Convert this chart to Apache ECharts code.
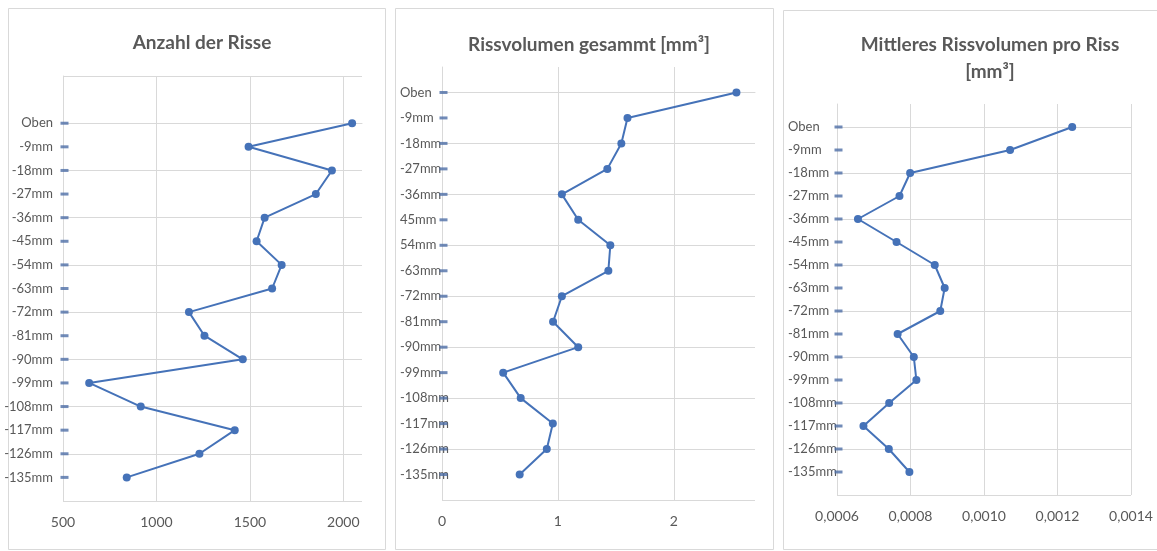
<!DOCTYPE html>
<html>
<head>
<meta charset="utf-8">
<script src="https://cdn.jsdelivr.net/npm/echarts@6/dist/echarts.min.js"></script>
<style>
html,body{margin:0;padding:0;background:#fff;}
#c{width:1157px;height:551px;}
</style>
</head>
<body>
<div id="c"></div>
<script>
// ---- data ----
const depth = [0, -9, -18, -27, -36, -45, -54, -63, -72, -81, -90, -99, -108, -117, -126, -135];
const labels1 = ['Oben','-9mm','-18mm','-27mm','-36mm','-45mm','-54mm','-63mm','-72mm','-81mm','-90mm','-99mm','-108mm','-117mm','-126mm','-135mm'];
const labels2 = ['Oben','-9mm','-18mm','-27mm','-36mm','45mm','54mm','-63mm','-72mm','-81mm','-90mm','-99mm','-108mm','-117mm','-126mm','-135mm'];
const labels3 = ['Oben','-9mm','-18mm','-27mm','-36mm','-45mm','-54mm','-63mm','-72mm','-81mm','-90mm','-99mm','-108mm','-117mm','-126mm','-135mm'];
const anzahl = [2047, 1493, 1939, 1853, 1579, 1536, 1670, 1619, 1174, 1257, 1462, 640, 916, 1419, 1230, 841];
const volumen = [2.54, 1.60, 1.547, 1.426, 1.034, 1.175, 1.452, 1.435, 1.034, 0.958, 1.175, 0.528, 0.679, 0.956, 0.904, 0.670];
const mittel = [0.001240, 0.001071, 0.000799, 0.000770, 0.000657, 0.000762, 0.000866, 0.000893, 0.000881, 0.000765, 0.000809, 0.000816, 0.000742, 0.000672, 0.000741, 0.000797];
const titles = ['Anzahl der Risse', 'Rissvolumen gesammt [mm³]', 'Mittleres Rissvolumen pro Riss\n[mm³]'];
const xTicks1 = {min: 500, max: 2100, interval: 500};
const xTicks2 = {min: 0, max: 2.7, interval: 1};
const xTicks3 = {min: 0.0006, max: 0.0014, interval: 0.0002};

// ---- styles ----
const FONT = 'Lato, "Noto Sans", sans-serif';
const TXT = '#595959';
const GRIDC = '#d9d9d9';
const LINEC = '#4572b8';
const DASHC = '#4e6ea6';

const panels = [
  {grid:{left:63, top:76, width:299, height:425}, x:xTicks1, ymax:18, labels:labels1, data:anzahl,
   title:{x:197, y:24}, lab:{align:'right', margin:10}, hideMax:true, fmt:v=>String(v), dashOff:1.5},
  {grid:{left:442, top:67, width:313, height:433}, x:xTicks2, ymax:9, labels:labels2, data:volumen,
   title:{x:584, y:26}, lab:{align:'left', margin:42}, hideMax:true, fmt:v=>String(Math.round(v)), dashOff:1.5, hideTop:true},
  {grid:{left:837, top:104, width:294, height:391}, x:xTicks3, ymax:9, labels:labels3, data:mittel,
   title:{x:985, y:26}, lab:{align:'left', margin:49}, hideMax:false, fmt:v=>v.toFixed(4).replace('.', ','), dashOff:1.5, hideTop:true}
];

const option = {
  animation:false,
  backgroundColor:'#fff',
  title:[], grid:[], xAxis:[], yAxis:[], series:[],
  graphic:[
    {type:'rect', shape:{x:8.5, y:8.5, width:377, height:541}, style:{fill:'none', stroke:GRIDC, lineWidth:1}, silent:true},
    {type:'rect', shape:{x:395.5, y:8.5, width:378, height:541}, style:{fill:'none', stroke:GRIDC, lineWidth:1}, silent:true},
    {type:'rect', shape:{x:783.5, y:10.5, width:380, height:539}, style:{fill:'none', stroke:GRIDC, lineWidth:1}, silent:true}
  ]
};

panels.forEach((p, k) => {
  option.title.push({
    text: titles[k], left: p.title.x, top: p.title.y, textAlign:'center',
    textStyle:{fontFamily:FONT, fontSize:19, fontWeight:'bold', color:TXT, lineHeight:27}
  });
  option.grid.push(Object.assign({containLabel:false}, p.grid));
  option.xAxis.push({
    type:'value', gridIndex:k, min:p.x.min, max:p.x.max, interval:p.x.interval,
    axisLine:{show:true, lineStyle:{color:GRIDC, width:1}},
    axisTick:{show:false},
    splitLine:{show:true, showMaxLine:!p.hideMax, lineStyle:{color:GRIDC, width:1}},
    axisLabel:{color:TXT, fontFamily:FONT, fontSize:14, margin:14, showMaxLabel:!p.hideMax, formatter:p.fmt}
  });
  // gridline axis
  option.yAxis.push({
    type:'value', gridIndex:k, min:-144, max:p.ymax, interval:18,
    axisLine:{show:true, lineStyle:{color:GRIDC, width:1}},
    axisTick:{show:false}, axisLabel:{show:false},
    splitLine:{show:true, showMaxLine:!p.hideTop, lineStyle:{color:GRIDC, width:1}}
  });
  // label axis
  const labs = p.labels;
  option.yAxis.push({
    type:'value', gridIndex:k, position:'left', offset:0, min:-144, max:p.ymax, interval:9,
    axisLine:{show:false}, axisTick:{show:false}, splitLine:{show:false},
    axisLabel:{color:TXT, fontFamily:FONT, fontSize:13, align:p.lab.align, margin:p.lab.margin,
      showMinLabel:true, showMaxLabel:true,
      formatter:v => { const i = depth.indexOf(Math.round(v)); return i >= 0 ? labs[i] : ''; }}
  });
  option.series.push({
    type:'scatter', xAxisIndex:k, yAxisIndex:2*k, silent:true,
    symbol:'rect', symbolSize:[8,3], symbolOffset:[p.dashOff,0],
    itemStyle:{color:DASHC},
    data: depth.map(d => [p.x.min, d]), z:3, clip:false
  });
  option.series.push({
    type:'line', xAxisIndex:k, yAxisIndex:2*k, silent:true,
    symbol:'circle', symbolSize:8, showAllSymbol:true,
    lineStyle:{color:LINEC, width:2}, itemStyle:{color:LINEC},
    data: depth.map((d, i) => [p.data[i], d]), z:4
  });
});

const chart = echarts.init(document.getElementById('c'), null, {renderer:'canvas'});
chart.setOption(option);
</script>
</body>
</html>
